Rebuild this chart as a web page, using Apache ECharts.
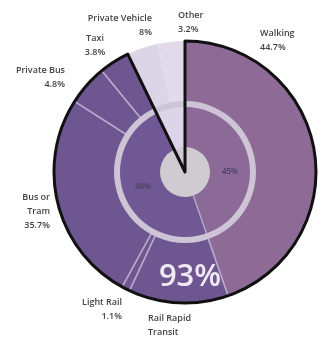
<!DOCTYPE html>
<html>
<head>
<meta charset="utf-8">
<script src="https://cdn.jsdelivr.net/npm/echarts@6/dist/echarts.min.js"></script>
<style>
    html, body { margin: 0; padding: 0; background: #fff; }
    #chart { width: 318px; height: 340px; }
</style>
</head>
<body>
<div id="chart"></div>
<script>
// 出行方式占比 (slice sizes, labels as printed)
var modes = ['Walking', 'Rail Rapid\nTransit', 'Light Rail', 'Bus or\nTram', 'Private Bus', 'Taxi', 'Private Vehicle', 'Other'];
var shares = [44.7, 12.3, 1.0, 26.1, 5.0, 3.75, 3.9, 3.3];
var printed = ['44.7%', '', '1.1%', '35.7%', '4.8%', '3.8%', '8%', '3.2%'];
var groupNames = ['Walking', 'Transit', 'Car'];
var groupSize = [1, 5, 2]; // how many modes in each group, in order
var innerLabels = ['45%', '48%'];
var bigLabel = '93%';

var colors = ['#8e6b97', '#6e5791', '#6e5791', '#6e5791', '#6e5791', '#6e5791', '#dcd4e7', '#e1daea'];
var groupColors = ['#8b6a97', '#6f5893', '#dcd4e7'];

var center = [185, 172];

var outerData = modes.map(function (m, i) {
    var d = { name: m, value: shares[i], itemStyle: { color: colors[i] } };
    if (i >= 6) { d.itemStyle.borderWidth = 0; }
    return d;
});

var groupData = [];
var k = 0;
groupNames.forEach(function (g, i) {
    var sum = 0;
    for (var j = 0; j < groupSize[i]; j++) { sum += shares[k++]; }
    groupData.push({ name: g, value: sum, itemStyle: { color: groupColors[i] } });
});

var outlineData = [
    { name: 'all', value: groupData[0].value + groupData[1].value, itemStyle: { color: 'rgba(0,0,0,0)', borderColor: '#111', borderWidth: 3, borderJoin: 'round' } },
    { name: 'rest', value: groupData[2].value, itemStyle: { color: 'rgba(0,0,0,0)', borderWidth: 0 } }
];

// label spots
var labelPos = [
    [260, 33, 'left'],
    [148, 318, 'left'],
    [122, 302, 'right'],
    [50, 197, 'right'],
    [65, 70, 'right'],
    [95, 38, 'center'],
    [152, 18, 'right'],
    [178, 15, 'left']
];

var graphics = modes.map(function (m, i) {
    var txt = printed[i] ? m + '\n' + printed[i] : m;
    return {
        type: 'text',
        z: 100,
        style: {
            text: txt,
            x: labelPos[i][0],
            y: labelPos[i][1] - 7,
            textAlign: labelPos[i][2],
            textVerticalAlign: 'top',
            fill: '#444',
            font: '600 9px "Open Sans"',
            lineHeight: 14
        }
    };
});

graphics.push({
    type: 'text', z: 100,
    style: { text: innerLabels[0], x: 230, y: 172, textAlign: 'center', textVerticalAlign: 'middle', fill: '#4e3f62', font: '600 8px "Open Sans"' }
});
graphics.push({
    type: 'text', z: 100,
    style: { text: innerLabels[1], x: 143, y: 187, textAlign: 'center', textVerticalAlign: 'middle', fill: '#4e3f62', font: '600 8px "Open Sans"' }
});
graphics.push({
    type: 'text', z: 100,
    style: { text: bigLabel, x: 190, y: 277, textAlign: 'center', textVerticalAlign: 'middle', fill: '#efe9f4', font: '600 31px "Open Sans"' }
});

var chart = echarts.init(document.getElementById('chart'), null, { renderer: 'canvas' });

var base = {
    type: 'pie',
    center: center,
    startAngle: 90,
    clockwise: true,
    silent: true,
    label: { show: false },
    labelLine: { show: false },
    emphasis: { disabled: true },
    avoidLabelOverlap: false
};

chart.setOption({
    animation: false,
    series: [
        Object.assign({}, base, {
            radius: [0, 131],
            z: 1,
            itemStyle: { borderColor: '#b9a9cb', borderWidth: 1.5 },
            data: outerData
        }),
        Object.assign({}, base, {
            radius: [0, 68],
            z: 2,
            itemStyle: { borderColor: '#b9a9cb', borderWidth: 1.2 },
            data: groupData
        }),
        Object.assign({}, base, {
            radius: [65, 71],
            z: 3,
            itemStyle: { borderWidth: 0 },
            data: [{ value: 1, itemStyle: { color: '#cdc4d5' } }]
        }),
        Object.assign({}, base, {
            radius: [0, 25],
            z: 4,
            itemStyle: { borderWidth: 0 },
            data: [{ value: 1, itemStyle: { color: '#cfcbd1' } }]
        }),
        Object.assign({}, base, {
            radius: [0, 131],
            z: 5,
            data: outlineData
        })
    ],
    graphic: graphics
});
</script>
</body>
</html>
